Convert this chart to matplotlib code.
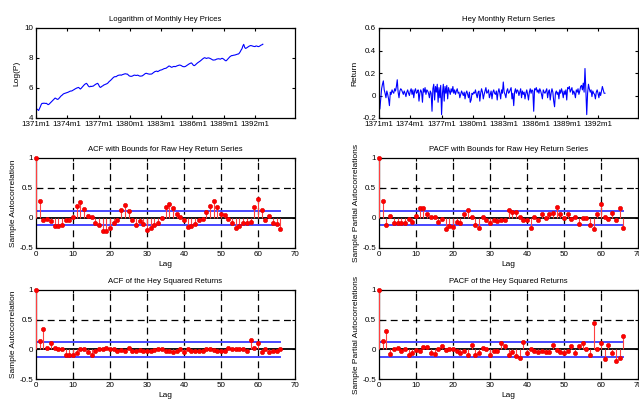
import numpy as np
import matplotlib
matplotlib.use('Agg')
import matplotlib.pyplot as plt

# ---------------- data ----------------
date_labels = ['1371m1', '1374m1', '1377m1', '1380m1', '1383m1', '1386m1', '1389m1', '1392m1']
date_tick_months = [0, 36, 72, 108, 144, 180, 216, 252]

log_price = [
    4.65, 4.60, 4.55, 4.50, 4.62, 4.75, 4.90, 4.98, 4.97, 4.99, 4.98, 4.97,
    4.98, 4.93, 4.89, 4.92, 4.98, 5.05, 5.10, 5.15, 5.22, 5.28, 5.33, 5.30,
    5.26, 5.24, 5.28, 5.35, 5.42, 5.48, 5.52, 5.58, 5.62, 5.64, 5.66, 5.68,
    5.70, 5.72, 5.75, 5.78, 5.80, 5.80, 5.83, 5.87, 5.90, 5.94, 5.97, 6.00,
    6.02, 6.04, 5.98, 5.93, 5.98, 6.05, 6.12, 6.18, 6.24, 6.28, 6.31, 6.25,
    6.15, 6.09, 6.08, 6.12, 6.10, 6.12, 6.13, 6.18, 6.22, 6.26, 6.29, 6.31,
    6.22, 6.10, 6.04, 6.07, 6.12, 6.15, 6.20, 6.22, 6.25, 6.27, 6.30, 6.35,
    6.42, 6.47, 6.52, 6.58, 6.64, 6.70, 6.74, 6.76, 6.75, 6.79, 6.83, 6.85,
    6.86, 6.87, 6.85, 6.88, 6.90, 6.92, 6.94, 6.95, 6.93, 6.93, 6.88, 6.82,
    6.79, 6.78, 6.78, 6.80, 6.83, 6.86, 6.85, 6.84, 6.84, 6.86, 6.83, 6.80,
    6.79, 6.80, 6.80, 6.84, 6.88, 6.93, 6.97, 6.98, 6.96, 6.94, 6.93, 6.92,
    6.93, 6.93, 6.97, 7.02, 7.06, 7.10, 7.11, 7.13, 7.09, 7.12, 7.16, 7.19,
    7.20, 7.22, 7.25, 7.28, 7.30, 7.31, 7.33, 7.38, 7.42, 7.47, 7.45, 7.41,
    7.38, 7.40, 7.43, 7.44, 7.42, 7.44, 7.47, 7.49, 7.51, 7.53, 7.52, 7.50,
    7.46, 7.43, 7.42, 7.42, 7.44, 7.48, 7.52, 7.56, 7.60, 7.63, 7.66, 7.67,
    7.60, 7.52, 7.49, 7.52, 7.58, 7.63, 7.68, 7.72, 7.76, 7.80, 7.85, 7.90,
    7.95, 7.99, 8.02, 8.00, 7.97, 7.99, 8.01, 8.00, 7.98, 7.95, 7.92, 7.88,
    7.86, 7.87, 7.87, 7.90, 7.93, 7.94, 7.95, 7.94, 7.92, 7.95, 7.98, 7.96,
    7.92, 7.87, 7.82, 7.82, 7.88, 7.95, 8.02, 8.08, 8.12, 8.16, 8.16, 8.18,
    8.19, 8.20, 8.22, 8.24, 8.26, 8.27, 8.33, 8.42, 8.53, 8.62, 8.80, 8.91,
    8.72, 8.64, 8.66, 8.70, 8.74, 8.78, 8.81, 8.83, 8.82, 8.80, 8.78, 8.77,
    8.76, 8.80, 8.80, 8.77, 8.76, 8.78, 8.82, 8.86, 8.88, 8.92,
]

returns = [
    0.02, -0.12, -0.03, 0.06, 0.10, 0.13, 0.05, 0.02, -0.02, 0.04, 0.01, -0.03,
    -0.09, 0.03, 0.01, 0.05, 0.03, 0.02, 0.06, 0.04, 0.08, 0.14, 0.03, -0.02,
    0.04, 0.06, 0.05, 0.03, 0.01, 0.04, 0.02, -0.01, 0.03, 0.05, 0.02, 0.00,
    0.04, 0.06, 0.01, 0.05, -0.02, 0.04, 0.06, 0.02, 0.03, 0.05, -0.05, 0.02,
    0.05, 0.03, -0.06, 0.06, 0.03, 0.07, 0.01, 0.05, 0.04, 0.02, -0.02, 0.04,
    0.02, -0.14, 0.06, 0.10, -0.04, 0.08, 0.03, 0.10, -0.06, 0.07, -0.02, 0.09,
    -0.17, 0.02, 0.10, -0.05, 0.08, 0.02, 0.09, -0.03, 0.07, 0.04, 0.01, 0.06,
    0.03, 0.08, 0.02, 0.05, 0.01, 0.04, 0.06, 0.02, 0.03, -0.02, 0.01, 0.04,
    0.02, 0.00, 0.03, -0.03, 0.02, 0.04, 0.01, -0.02, 0.03, -0.06, -0.04, 0.02,
    0.01, 0.03, 0.02, 0.05, 0.01, -0.02, 0.03, 0.04, -0.05, 0.02, 0.06, 0.03,
    -0.03, 0.01, 0.04, 0.07, 0.02, 0.03, 0.05, -0.02, 0.01, 0.04, -0.03, 0.03,
    0.05, 0.02, 0.01, 0.04, -0.04, 0.03, 0.06, 0.02, -0.03, 0.05, 0.02, 0.12,
    0.03, 0.01, -0.02, 0.04, 0.06, 0.02, 0.03, 0.05, 0.07, -0.03, 0.02, -0.09,
    0.03, 0.06, 0.02, 0.05, 0.04, 0.00, 0.03, 0.06, -0.02, 0.04, 0.01, 0.03,
    -0.03, 0.02, 0.05, 0.01, -0.04, 0.03, 0.06, 0.02, 0.05, 0.04, -0.14, 0.06,
    0.05, 0.07, 0.03, 0.05, 0.02, 0.06, 0.04, 0.01, -0.03, 0.05, 0.03, 0.02,
    0.04, 0.06, -0.02, 0.03, 0.05, -0.04, 0.02, 0.06, 0.03, -0.05, -0.10, 0.02,
    0.04, 0.01, 0.03, -0.03, 0.05, 0.02, 0.06, 0.03, -0.02, 0.04, 0.01, 0.05,
    -0.04, 0.07, 0.06, 0.08, 0.03, 0.05, 0.07, 0.01, 0.04, 0.02, -0.02, 0.05,
    0.03, 0.06, 0.01, 0.04, 0.08, 0.09, 0.05, 0.11, 0.03, 0.24, 0.05, -0.17,
    0.02, 0.10, 0.06, 0.03, 0.05, -0.01, 0.04, 0.02, 0.01, -0.03, 0.03, 0.05,
    0.02, -0.02, 0.03, 0.00, 0.04, 0.08, 0.05, 0.02, 0.02,
]

acf_raw = [
    1.00, 0.28, -0.03, -0.01, -0.05, -0.13, -0.13, -0.11, -0.04, -0.04,
    0.02, 0.20, 0.26, 0.15, 0.04, 0.02, -0.08, -0.11, -0.22, -0.22,
    -0.17, -0.08, -0.03, 0.14, 0.22, 0.12, -0.03, -0.11, -0.05, -0.10,
    -0.20, -0.16, -0.11, -0.08, 0.00, 0.19, 0.24, 0.16, 0.07, 0.01,
    -0.03, -0.15, -0.14, -0.10, -0.04, -0.01, 0.10, 0.20, 0.29, 0.19,
    0.06, 0.05, -0.01, -0.08, -0.16, -0.13, -0.08, -0.09, -0.06, 0.19,
    0.31, 0.13, -0.03, 0.03, -0.08, -0.10, -0.19,
]

pacf_raw = [
    1.00, 0.28, -0.12, 0.04, -0.08, -0.09, -0.08, -0.08, -0.01, -0.06,
    0.03, 0.17, 0.17, 0.06, 0.01, 0.02, -0.07, -0.01, -0.18, -0.14,
    -0.15, -0.06, -0.08, 0.07, 0.13, 0.01, -0.12, -0.17, 0.01, -0.03,
    -0.08, -0.03, -0.05, -0.03, -0.03, 0.14, 0.10, 0.10, 0.02, -0.03,
    -0.03, -0.16, 0.01, -0.03, 0.07, 0.00, 0.07, 0.09, 0.19, 0.07,
    0.00, 0.06, -0.02, 0.02, -0.10, 0.00, 0.00, -0.12, -0.18, 0.06,
    0.23, 0.02, -0.02, 0.08, -0.03, 0.16, -0.16,
]

acf_sq = [
    1.00, 0.14, 0.34, 0.02, 0.11, 0.02, 0.01, 0.01, -0.09, -0.09,
    -0.09, -0.07, 0.00, 0.01, -0.04, -0.09, -0.03, 0.01, 0.01, 0.03,
    0.01, 0.00, -0.03, -0.01, -0.02, 0.03, -0.03, -0.03, -0.01, -0.02,
    -0.02, -0.02, -0.01, 0.01, 0.00, -0.02, -0.02, -0.05, -0.03, 0.01,
    -0.04, 0.01, -0.02, -0.02, -0.02, -0.02, 0.00, 0.01, -0.01, -0.02,
    -0.02, -0.02, 0.02, 0.00, 0.01, 0.00, 0.00, -0.03, 0.15, 0.03,
    0.10, -0.04, 0.01, -0.04, -0.02, -0.03, 0.01,
]

pacf_sq = [
    1.00, 0.14, 0.31, -0.08, 0.00, 0.02, -0.03, 0.01, -0.09, -0.07,
    -0.01, -0.02, 0.04, 0.04, -0.06, -0.08, 0.01, 0.06, -0.01, 0.01,
    0.00, -0.02, -0.06, -0.02, -0.10, 0.08, -0.09, -0.06, 0.03, 0.01,
    -0.10, -0.03, -0.03, 0.10, 0.05, -0.10, -0.05, -0.12, -0.14, 0.13,
    -0.07, 0.01, -0.03, -0.05, -0.02, -0.04, -0.04, 0.07, -0.01, -0.04,
    -0.07, -0.03, 0.05, -0.06, 0.06, 0.10, 0.01, -0.10, 0.45, 0.00,
    0.11, -0.17, 0.08, -0.07, -0.19, -0.15, 0.22,
]

bound_raw = 0.12
bound_sq = 0.125

# ---------------- drawing ----------------
plt.rcParams['font.family'] = ['Liberation Sans', 'DejaVu Sans']

fig = plt.figure(figsize=(6.39, 4.0), dpi=100)
W, H = 639.0, 400.0


def make_ax(left, top, width, height):
    return fig.add_axes([left / W, 1 - (top + height) / H, width / W, height / H])


def style(ax):
    ax.tick_params(direction='in', top=True, right=True, length=2.5, width=0.8,
                   labelsize=5.8, pad=2, colors='black')
    for s in ax.spines.values():
        s.set_linewidth(0.9)
        s.set_color('black')


def series_plot(ax, y, title, ylabel, ylim, yticks, yticklabels):
    t = np.arange(len(y))
    ax.plot(t, y, color='#0000ff', lw=0.8)
    ax.set_xlim(0, 298)
    ax.set_ylim(*ylim)
    ax.set_xticks(date_tick_months)
    ax.set_xticklabels(date_labels)
    ax.set_yticks(yticks)
    ax.set_yticklabels(yticklabels)
    ax.set_title(title, fontsize=5.6, pad=5)
    ax.set_ylabel(ylabel, fontsize=6, labelpad=3)
    style(ax)


def corr_plot(ax, vals, bound, title, ylabel):
    lags = np.arange(len(vals))
    dash = (0, (5.5, 3.5))
    for x in range(10, 70, 10):
        ax.axvline(x, color='black', lw=0.9, ls=dash, zorder=1)
    ax.axhline(0.5, color='black', lw=0.9, ls=dash, zorder=1)
    ax.vlines(lags, 0, vals, color='#ff4040', lw=0.8, zorder=3)
    ax.plot([0, lags[-1]], [bound, bound], color='#4848ff', lw=1.4, zorder=2)
    ax.plot([0, lags[-1]], [-bound, -bound], color='#4848ff', lw=1.4, zorder=2)
    ax.axhline(0, color='black', lw=1.3, zorder=2)
    ax.plot(lags, vals, 'o', color='#ff0000', ms=3.1, mec='#e00000', mew=0.4,
            zorder=4, clip_on=False)
    ax.set_xlim(0, 70)
    ax.set_ylim(-0.5, 1)
    ax.set_xticks(range(0, 71, 10))
    ax.set_yticks([-0.5, 0, 0.5, 1])
    ax.set_yticklabels(['-0.5', '0', '0.5', '1'])
    ax.set_title(title, fontsize=5.6, pad=5)
    ax.set_ylabel(ylabel, fontsize=6, labelpad=2)
    ax.set_xlabel('Lag', fontsize=6, labelpad=2)
    style(ax)


LX, RX, AW = 36, 379, 259

ax1 = make_ax(LX, 28, AW, 90)
series_plot(ax1, log_price, 'Logarithm of Monthly Hey Prices', 'Log(P)',
            (4, 10), [4, 6, 8, 10], ['4', '6', '8', '10'])

ax2 = make_ax(RX, 28, AW, 90)
series_plot(ax2, returns, 'Hey Monthly Return Series', 'Return',
            (-0.2, 0.6), [-0.2, 0, 0.2, 0.4, 0.6], ['-0.2', '0', '0.2', '0.4', '0.6'])

ax3 = make_ax(LX, 158, AW, 90)
corr_plot(ax3, acf_raw, bound_raw, 'ACF with Bounds for Raw Hey Return Series',
          'Sample Autocorrelation')

ax4 = make_ax(RX, 158, AW, 90)
corr_plot(ax4, pacf_raw, bound_raw, 'PACF with Bounds for Raw Hey Return Series',
          'Sample Partial Autocorrelations')

ax5 = make_ax(LX, 290, AW, 89)
corr_plot(ax5, acf_sq, bound_sq, 'ACF of the Hey Squared Returns',
          'Sample Autocorrelation')

ax6 = make_ax(RX, 290, AW, 89)
corr_plot(ax6, pacf_sq, bound_sq, 'PACF of the Hey Squared Returns',
          'Sample Partial Autocorrelations')

fig.savefig('out.png', dpi=100, facecolor='white')
